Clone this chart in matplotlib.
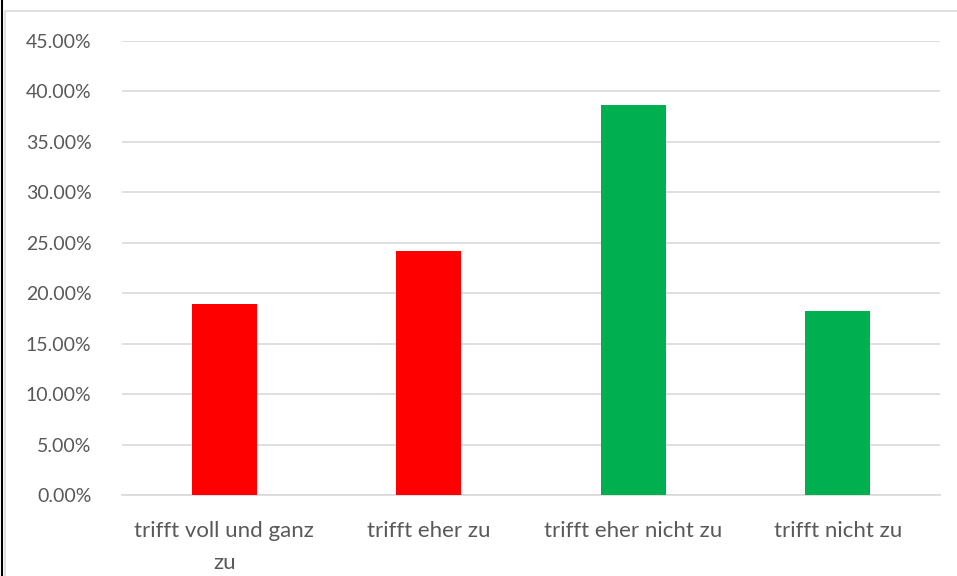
import matplotlib
matplotlib.use("Agg")
import matplotlib.pyplot as plt
from matplotlib.patches import Rectangle
from matplotlib.lines import Line2D
from matplotlib.ticker import FuncFormatter, MultipleLocator

categories = ["trifft voll und ganz\nzu", "trifft eher zu", "trifft eher nicht zu", "trifft nicht zu"]
values = [18.9, 24.2, 38.7, 18.2]
colors = ["#FF0000", "#FF0000", "#00B050", "#00B050"]

plt.rcParams['font.family'] = ['Lato', 'DejaVu Sans']

W, H = 957, 576
fig = plt.figure(figsize=(W / 100, H / 100), dpi=100)
ax = fig.add_axes([122 / W, 1 - 495 / H, (940 - 122) / W, (495 - 41) / H])

x = list(range(len(categories)))
ax.bar(x, values, width=0.32, color=colors, zorder=3)
ax.set_xlim(-0.5, len(categories) - 0.5)
ax.set_ylim(0, 45)
ax.yaxis.set_major_locator(MultipleLocator(5))
ax.yaxis.set_major_formatter(FuncFormatter(lambda v, p: f"{v:.2f}%"))
ax.grid(axis='y', color='#D9D9D9', linewidth=1.2, zorder=0)
ax.set_axisbelow(True)
for s in ['top', 'right', 'left']:
    ax.spines[s].set_visible(False)
ax.spines['bottom'].set_color('#D9D9D9')
ax.spines['bottom'].set_linewidth(1.2)
ax.set_xticks(x)
ax.set_xticklabels(categories, linespacing=1.75)
ax.tick_params(axis='both', length=0, colors='#595959')
ax.tick_params(axis='x', pad=19, labelsize=16)
ax.tick_params(axis='y', pad=22, labelsize=14)

# chart border and left edge line
fig.patches.append(Rectangle((5 / W, -0.1), 1.2, 1 - 11 / H + 0.1, transform=fig.transFigure,
                             fill=False, edgecolor='#D9D9D9', linewidth=1.2))
fig.lines.append(Line2D([1.5 / W, 1.5 / W], [0, 1], transform=fig.transFigure,
                        color='black', linewidth=1.5))

fig.savefig("out.png", dpi=100)
